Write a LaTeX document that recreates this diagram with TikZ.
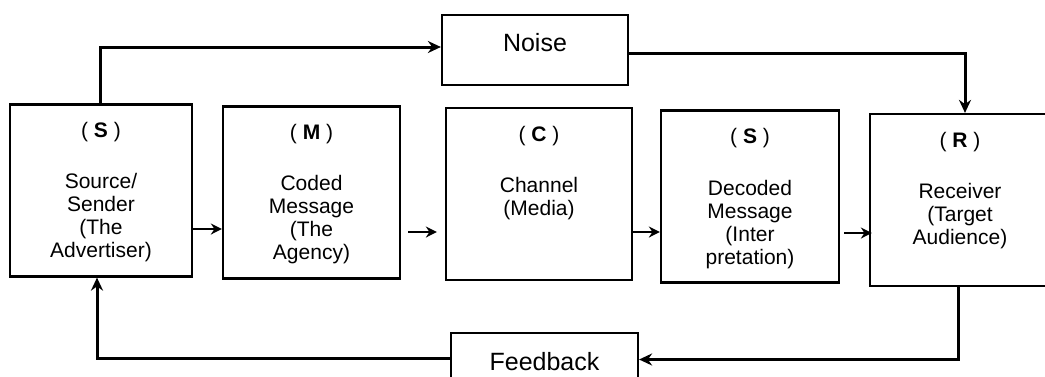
\documentclass[tikz,border=0pt]{standalone}
\usepackage{fontspec}
\setmainfont{Liberation Sans}
\usetikzlibrary{arrows.meta}

\tikzset{
  blk/.style={draw, line width=1.1pt, minimum width=#1, minimum height=86pt, inner sep=0pt},
  ttl/.style={inner sep=0pt, font=\fontsize{10.5}{12}\selectfont},
  txt/.style={align=center, anchor=north, inner sep=0pt, font=\fontsize{10.5}{11.5}\selectfont},
  big/.style={draw, line width=1.1pt, minimum width=#1, inner sep=0pt, font=\fontsize{12.5}{14}\selectfont},
  con/.style={line width=1.5pt, -{Stealth[length=6.5pt,width=6pt]}},
  arr/.style={line width=1pt, -{Stealth[length=5.5pt,width=5.5pt]}},
}

\begin{document}
\begin{tikzpicture}[x=0.5pt,y=-0.5pt]
		\useasboundingbox (0,0) rectangle (1045,376);
		% the five stages
		\node[blk=91pt] (src) at (101,190.5) {};
		\node[blk=88.5pt] (msg) at (311.5,192.5) {};
		\node[blk=93pt] (chan) at (539,194) {};
		\node[blk=89pt] (dec) at (750,196.5) {};
		\node[blk=90pt] (rec) at (960,200) {};
		\node[ttl] (srcT) at ([yshift=-14.5pt]src.north) {(\ \textbf{S}\ )};
		\node[ttl] (msgT) at ([yshift=-14.5pt]msg.north) {(\ \textbf{M}\ )};
		\node[ttl] (chanT) at ([yshift=-14.5pt]chan.north) {(\ \textbf{C}\ )};
		\node[ttl] (decT) at ([yshift=-14.5pt]dec.north) {(\ \textbf{S}\ )};
		\node[ttl] (recT) at ([yshift=-14.5pt]rec.north) {(\ \textbf{R}\ )};
		\node[txt] (srcB) at ([yshift=-34.5pt]src.north) {Source/\\Sender\\(The\\Advertiser)};
		\node[txt] (msgB) at ([yshift=-34.5pt]msg.north) {Coded\\Message\\(The\\Agency)};
		\node[txt] (chanB) at ([yshift=-35pt]chan.north) {Channel\\(Media)};
		\node[txt] (decB) at ([yshift=-35pt]dec.north) {Decoded\\Message\\(Inter\\pretation)};
		\node[txt] (recB) at ([yshift=-35pt]rec.north) {Receiver\\(Target\\Audience)};
		% noise and feedback
		\node[big=93pt, minimum height=35pt, label={[yshift=3.5pt, font=\fontsize{12.5}{14}\selectfont]center:Noise}] (noise) at (535,50) {};
		\node[big=93.5pt, minimum height=28.5pt] (fb) at (544.5,361.5) {Feedback};
		% arrows between the stages
		\path (src.east) ++(0,38.5) coordinate (sm);
		\draw[arr] (sm) -- (sm -| msg.west);
		\path (msg.east) ++(7,39.5) coordinate (mc);
		\draw[arr] (mc) -- ([xshift=-4pt]mc -| chan.west);
		\path (chan.east) ++(-1,38) coordinate (cd);
		\draw[arr] (cd) -- (cd -| dec.west);
		\path (dec.east) ++(4,36.5) coordinate (dr);
		\draw[arr] (dr) -- ([xshift=1.5pt]dr -| rec.west);
		% loops round the stages
		\draw[con] ([xshift=-0.5pt]src.north) |- ([yshift=1.5pt]noise.west);
		\draw[con] ([yshift=-1.5pt]noise.east) -| ([xshift=2.5pt]rec.north);
		\draw[con] ([xshift=-1pt]rec.south) |- ([yshift=1pt]fb.east);
		\draw[con] ([yshift=1.5pt]fb.west) -| ([xshift=-2pt]src.south);
\end{tikzpicture}
\end{document}
